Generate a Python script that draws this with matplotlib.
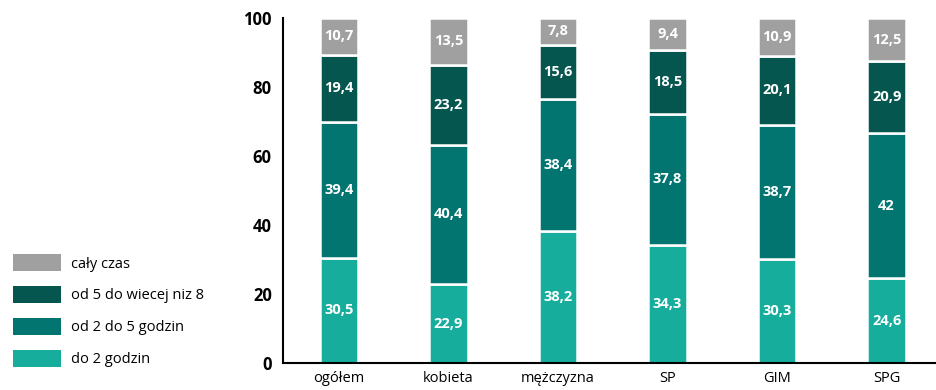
import numpy as np
import matplotlib.pyplot as plt
from matplotlib.patches import Patch

# dane: udział uczniów wg czasu spędzanego przed ekranem (%)
kategorie = ["ogółem", "kobieta", "mężczyzna", "SP", "GIM", "SPG"]
do_2 = [30.5, 22.9, 38.2, 34.3, 30.3, 24.6]
od_2_do_5 = [39.4, 40.4, 38.4, 37.8, 38.7, 42]
od_5_do_8 = [19.4, 23.2, 15.6, 18.5, 20.1, 20.9]
caly_czas = [10.7, 13.5, 7.8, 9.4, 10.9, 12.5]

serie = [
    ("do 2 godzin", do_2, "#16ad9d"),
    ("od 2 do 5 godzin", od_2_do_5, "#037570"),
    ("od 5 do wiecej niz 8", od_5_do_8, "#04564f"),
    ("cały czas", caly_czas, "#a0a0a0"),
]

plt.rcParams['font.family'] = ['Open Sans', 'DejaVu Sans']

fig = plt.figure(figsize=(9.37, 3.9), dpi=100)
ax = fig.add_axes([0.302, 0.069, 0.698, 0.885])

x = np.arange(len(kategorie))
dol = np.zeros(len(kategorie))
for nazwa, wartosci, kolor in serie:
    wartosci = np.array(wartosci, dtype=float)
    ax.bar(x, wartosci, bottom=dol, width=0.35, color=kolor,
           edgecolor='white', linewidth=1.8, label=nazwa)
    for xi, b, v in zip(x, dol, wartosci):
        etykieta = f"{v:g}".replace('.', ',')
        ax.text(xi, b + v / 2, etykieta, ha='center', va='center',
                color='white', fontsize=10.5, fontweight='bold')
    dol += wartosci

ax.set_xlim(-0.51, 5.46)
ax.set_ylim(0, 100)
ax.set_xticks(x)
ax.set_xticklabels(kategorie, fontsize=10.5)
ax.set_yticks(range(0, 101, 20))
ax.tick_params(axis='y', length=0, labelsize=12, pad=8)
ax.tick_params(axis='x', length=0, pad=6)
for lab in ax.get_yticklabels():
    lab.set_fontweight('bold')
for s in ['top', 'right']:
    ax.spines[s].set_visible(False)
ax.spines['left'].set_linewidth(1.5)
ax.spines['bottom'].set_linewidth(1.5)

uchwyty = [Patch(facecolor=k, label=n) for n, _, k in serie[::-1]]
fig.legend(handles=uchwyty, loc='lower left', bbox_to_anchor=(0.0, 0.025),
           frameon=False, fontsize=10.5, handlelength=3.3, handleheight=1.4,
           handletextpad=0.7, labelspacing=1.0)

fig.savefig("out.png", dpi=100)
